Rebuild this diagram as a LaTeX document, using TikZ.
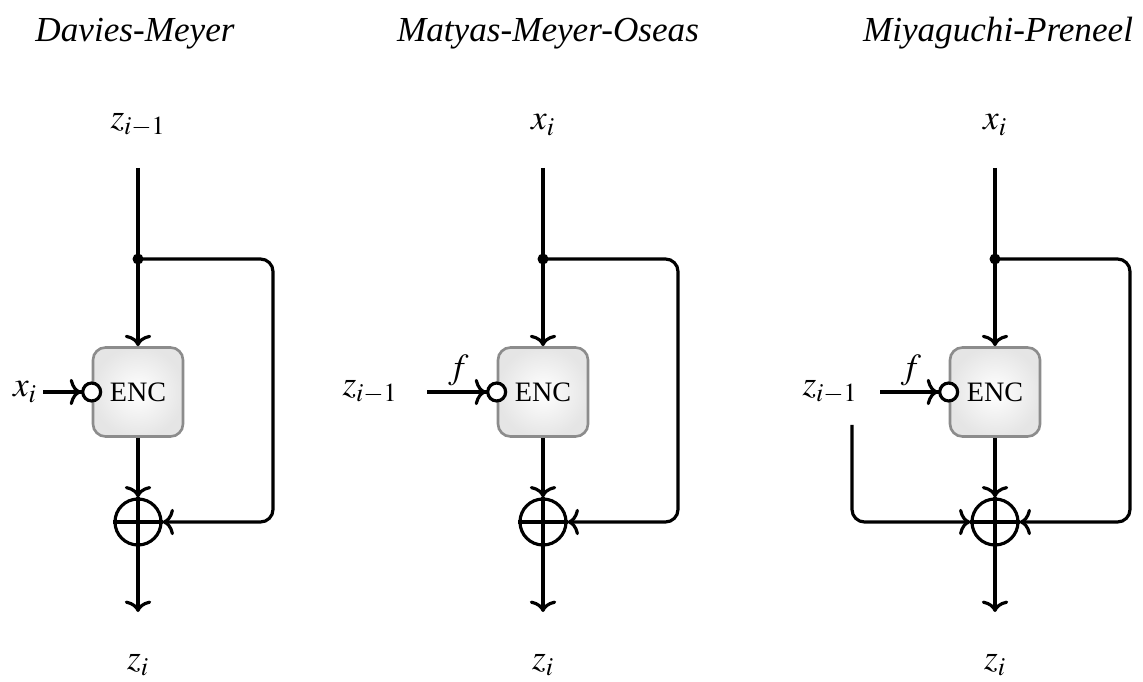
\documentclass[tikz,border=0pt]{standalone}
\usepackage{mathptmx}
\usepackage[no-math]{fontspec}
\setmainfont{Liberation Serif}
\usetikzlibrary{positioning,arrows.meta}

\tikzset{
  wire/.style={line width=1.8pt,-{To[width=15pt,length=6.5pt]}},
  plain/.style={line width=1.8pt},
  encbox/.style={draw=gray!90,line width=1.5pt,rounded corners=0.25cm,
                 inner color=white,outer color=gray!20,
                 minimum width=1.8cm,minimum height=1.78cm,
                 font=\fontsize{16}{18}\selectfont},
  xorc/.style={draw,circle,line width=1.8pt,minimum size=0.92cm,inner sep=0pt},
  lbl/.style={font=\fontsize{20}{22}\selectfont},
  title/.style={font=\fontsize{20}{22}\selectfont\itshape,anchor=base},
  keyin/.style={line width=1.8pt,shorten >=-6pt,
                -{To[width=15pt,length=6.5pt] Circle[open,length=12pt,fill=white]}}
}

\begin{document}
\begin{tikzpicture}
  \useasboundingbox (0,0) rectangle (22.86,13.62);

  % Davies-Meyer
  \node[title] (dm-title) at (2.7,12.78) {Davies-Meyer};
  \node[lbl] (dm-in) at (2.76,11.12) {$z_{i-1}$};
  \node[encbox] (dm-enc) at (2.76,5.78) {ENC};
  \node[xorc] (dm-xor) at (2.76,3.18) {};
  \node[lbl] (dm-out) at (2.76,0.32) {$z_i$};
  \node[lbl] (dm-key) at (0.5,5.78) {$x_i$};
  \coordinate (dm-top) at (2.76,10.26);
  \coordinate (dm-fork) at (2.76,8.44);
  \coordinate (dm-end) at (2.76,1.38);
  \draw[wire] (dm-top) -- (dm-enc.north);
  \draw[wire] (dm-enc) -- (dm-xor.north);
  \draw[wire] (dm-xor.north) -- (dm-end);
  \draw[plain] (dm-xor.west) -- (dm-xor.east);
  \draw[wire,rounded corners=0.25cm] (dm-fork) -| ([xshift=2.7cm]dm-xor.center) -- (dm-xor.east);
  \fill (dm-fork) circle (0.11);
  \draw[keyin] (dm-key) -- (dm-enc.west);

  % Matyas-Meyer-Oseas
  \node[title] (mmo-title) at (10.96,12.78) {Matyas-Meyer-Oseas};
  \node[lbl] (mmo-in) at (10.86,11.12) {$x_i$};
  \node[encbox] (mmo-enc) at (10.86,5.78) {ENC};
  \node[xorc] (mmo-xor) at (10.86,3.18) {};
  \node[lbl] (mmo-out) at (10.86,0.32) {$z_i$};
  \node[lbl] (mmo-key) at (7.4,5.78) {$z_{i-1}$};
  \coordinate (mmo-top) at (10.86,10.26);
  \coordinate (mmo-fork) at (10.86,8.44);
  \coordinate (mmo-end) at (10.86,1.38);
  \coordinate (mmo-src) at (8.54,5.78);
  \draw[wire] (mmo-top) -- (mmo-enc.north);
  \draw[wire] (mmo-enc) -- (mmo-xor.north);
  \draw[wire] (mmo-xor.north) -- (mmo-end);
  \draw[plain] (mmo-xor.west) -- (mmo-xor.east);
  \draw[wire,rounded corners=0.25cm] (mmo-fork) -| ([xshift=2.7cm]mmo-xor.center) -- (mmo-xor.east);
  \fill (mmo-fork) circle (0.11);
  \draw[keyin] (mmo-src) -- node[lbl,midway,above=-1pt,xshift=-2pt] (mmo-f) {$f$} (mmo-enc.west);

  % Miyaguchi-Preneel
  \node[title] (mp-title) at (19.96,12.78) {Miyaguchi-Preneel};
  \node[lbl] (mp-in) at (19.9,11.12) {$x_i$};
  \node[encbox] (mp-enc) at (19.9,5.78) {ENC};
  \node[xorc] (mp-xor) at (19.9,3.18) {};
  \node[lbl] (mp-out) at (19.9,0.32) {$z_i$};
  \node[lbl] (mp-key) at (16.6,5.78) {$z_{i-1}$};
  \coordinate (mp-top) at (19.9,10.26);
  \coordinate (mp-fork) at (19.9,8.44);
  \coordinate (mp-end) at (19.9,1.38);
  \coordinate (mp-src) at (17.6,5.78);
  \coordinate (mp-tap) at (17.04,5.12);
  \draw[wire] (mp-top) -- (mp-enc.north);
  \draw[wire] (mp-enc) -- (mp-xor.north);
  \draw[wire] (mp-xor.north) -- (mp-end);
  \draw[plain] (mp-xor.west) -- (mp-xor.east);
  \draw[wire,rounded corners=0.25cm] (mp-fork) -| ([xshift=2.7cm]mp-xor.center) -- (mp-xor.east);
  \draw[wire,rounded corners=0.25cm] (mp-tap) |- (mp-xor.west);
  \fill (mp-fork) circle (0.11);
  \draw[keyin] (mp-src) -- node[lbl,midway,above=-1pt,xshift=-2pt] (mp-f) {$f$} (mp-enc.west);
\end{tikzpicture}
\end{document}
